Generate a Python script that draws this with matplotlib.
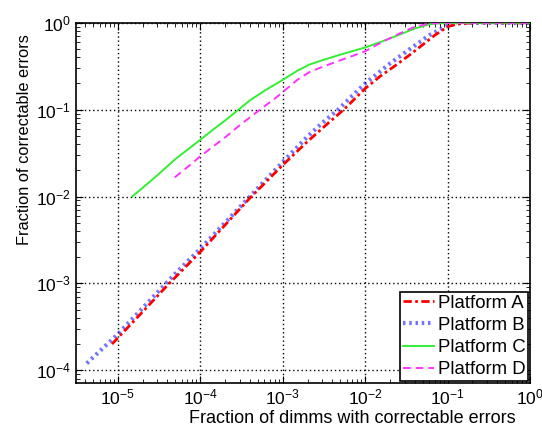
import matplotlib
matplotlib.use('Agg')
import matplotlib.pyplot as plt

plt.rcParams['font.family'] = ['Liberation Sans', 'DejaVu Sans']
plt.rcParams['mathtext.fontset'] = 'custom'
plt.rcParams['mathtext.rm'] = 'Liberation Sans'

# values
a_x = [8.5e-6, 1e-5, 2e-5, 4e-5, 1e-4, 2e-4, 4e-4, 1e-3, 2e-3, 3.5e-3, 5.5e-3, 1e-2, 1.5e-2,
       2.2e-2, 3.5e-2, 5e-2, 7e-2, 1e-1, 1.3e-1, 2e-1, 1.0]
a_y = [2.0e-4, 2.35e-4, 4.7e-4, 9.5e-4, 2.3e-3, 4.7e-3, 9.6e-3, 2.3e-2, 4.3e-2, 6.9e-2, 0.1, 0.175, 0.24,
       0.31, 0.43, 0.56, 0.72, 0.9, 0.97, 1.0, 1.0]

b_x = [4.2e-6, 1e-5, 2e-5, 5e-5, 1e-4, 3e-4, 1e-3, 2e-3, 3e-3, 4.7e-3, 7e-3, 1e-2, 2e-2,
       3.5e-2, 6e-2, 1e-1, 1.4e-1, 2e-1, 1.0]
b_y = [1.2e-4, 2.6e-4, 5.2e-4, 1.3e-3, 2.5e-3, 7.5e-3, 2.5e-2, 4.9e-2, 7e-2, 0.1, 0.145, 0.2, 0.34,
       0.5, 0.72, 0.93, 0.99, 1.0, 1.0]

c_x = [1.5e-5, 2e-5, 3e-5, 5e-5, 1e-4, 1.5e-4, 2e-4, 2.8e-4, 4e-4, 6e-4, 1e-3, 1.5e-3, 2.1e-3,
       3e-3, 5e-3, 1e-2, 1.6e-2, 2.6e-2, 4e-2, 6e-2, 8e-2, 0.2, 1.0]
c_y = [0.01, 0.0126, 0.0175, 0.027, 0.045, 0.061, 0.075, 0.097, 0.128, 0.165, 0.22, 0.28, 0.33,
       0.37, 0.43, 0.52, 0.61, 0.73, 0.86, 0.96, 0.99, 1.0, 1.0]

d_x = [4.9e-5, 7.5e-5, 1e-4, 2e-4, 3e-4, 5.3e-4, 8.5e-4, 1.5e-3, 2.1e-3, 3e-3, 5e-3, 1e-2,
       1.6e-2, 2.6e-2, 4e-2, 6e-2, 0.1, 1.0]
d_y = [0.0166, 0.023, 0.029, 0.048, 0.066, 0.1, 0.14, 0.22, 0.27, 0.31, 0.37, 0.47,
       0.6, 0.75, 0.9, 0.98, 1.0, 1.0]

labels = ['Platform A', 'Platform B', 'Platform C', 'Platform D']

fig = plt.figure(figsize=(5.42, 4.30), dpi=100)
ax = fig.add_axes([0.140, 0.109, 0.838, 0.838])

ax.loglog(b_x, b_y, color='blue', linestyle=(0, (0.6, 0.9)), linewidth=3, alpha=0.55,
          label=labels[1], zorder=3)
ax.loglog(a_x, a_y, color='red', linestyle=(0, (3, 1.2, 1, 1.2)), linewidth=2,
          label=labels[0], zorder=4)
ax.loglog(c_x, c_y, color='#33ee33', linestyle='-', linewidth=1.4, label=labels[2], zorder=5)
ax.loglog(d_x, d_y, color='#ff33ff', linestyle=(0, (4, 2.5)), linewidth=1.4, label=labels[3], zorder=5)

ax.set_xlim(3.1e-6, 1)
ax.set_ylim(7.1e-5, 1)
ax.grid(True, which='major', color='black', linestyle=(0, (1, 2)), linewidth=1)
ax.tick_params(which='both', direction='in', top=True, right=True, labelsize=12.5)
ax.tick_params(which='major', length=5)
ax.tick_params(which='minor', length=3)
for s in ax.spines.values():
    s.set_linewidth(1.2)

ax.set_xlabel('Fraction of dimms with correctable errors', fontsize=13)
ax.set_ylabel('Fraction of correctable errors', fontsize=11.8)
ax.xaxis.set_label_coords(0.608, -0.075)
ax.yaxis.set_label_coords(-0.097, 0.675)

h, l = ax.get_legend_handles_labels()
order = [1, 0, 2, 3]
leg = ax.legend([h[i] for i in order], [l[i] for i in order], loc='lower right', fontsize=13.4,
                fancybox=False, edgecolor='black', framealpha=1, borderpad=0.15,
                labelspacing=0.28, handlelength=1.65, handletextpad=0.2, borderaxespad=0.1)
leg.get_frame().set_linewidth(1.2)

fig.savefig('out.png', dpi=100)
